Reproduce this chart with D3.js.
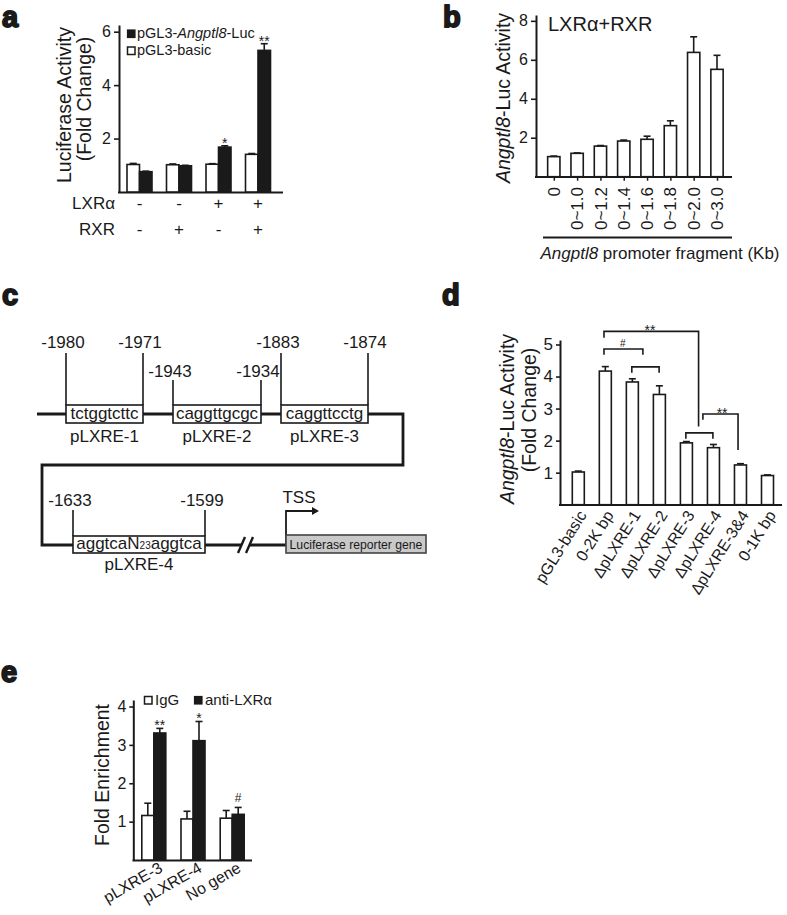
<!DOCTYPE html>
<html><head><meta charset="utf-8">
<script src="https://cdn.jsdelivr.net/npm/d3@7"></script>
<style>
body{margin:0;background:#fff}
svg{display:block}
text{font-family:"Liberation Sans",Arial,Helvetica,sans-serif;fill:#1a1a1a}
</style>
</head><body>
<svg id="fig" width="787" height="915"></svg>
<script>
// ---------------- DATA ----------------
// Panel a
const aGroups = ["g1","g2","g3","g4"];
const aLXR = ["-","-","+","+"];
const aRXR = ["-","+","-","+"];
const aBasic = [1.03,1.02,1.04,1.41];
const aBasicErr = [0.04,0.03,0.02,0.03];
const aLuc = [0.76,0.98,1.68,5.30];
const aLucErr = [0.02,0.02,0.05,0.25];
const aSig = ["","","*","**"];
const aTicks = [2,4,6];
// Panel b
const bCats = ["0","0~1.0","0~1.2","0~1.4","0~1.6","0~1.8","0~2.0","0~3.0"];
const bVals = [1.03,1.20,1.57,1.83,1.92,2.62,6.38,5.51];
const bErr  = [0.03,0.02,0.03,0.05,0.16,0.25,0.80,0.72];
const bTicks = [2,4,6,8];
// Panel c (schematic)
const cSites = [
  {name:"pLXRE-1", seq:"tctggtcttc", start:"-1980", end:"-1971"},
  {name:"pLXRE-2", seq:"caggttgcgc", start:"-1943", end:"-1934"},
  {name:"pLXRE-3", seq:"caggttcctg", start:"-1883", end:"-1874"},
  {name:"pLXRE-4", seq:"aggtcaN", sub:"23", seq2:"aggtca", start:"-1633", end:"-1599"}
];
// Panel d
const dCats = ["pGL3-basic","0-2K bp","\u0394pLXRE-1","\u0394pLXRE-2","\u0394pLXRE-3","\u0394pLXRE-4","\u0394pLXRE-3&4","0-1K bp"];
const dVals = [1.02,4.17,3.83,3.44,1.93,1.78,1.24,0.91];
const dErr  = [0.03,0.14,0.10,0.27,0.04,0.10,0.04,0.02];
const dTicks = [1,2,3,4,5];
// significance brackets: [from index, to index, top value, left leg value, right leg value, label, label index]
const dBrackets = [
  [0.95, 4.45, 5.41, 5.21, 2.44, "**", 2.65],
  [0.95, 2.39, 4.86, 4.68, 4.68, "#", 1.65],
  [1.98, 2.99, 4.30, 4.12, 4.12, "", 0],
  [3.98, 4.98, 2.24, 2.06, 2.06, "", 0],
  [4.61, 5.91, 2.83, 2.65, 1.71, "**", 5.32]
];
// Panel e
const eCats = ["pLXRE-3","pLXRE-4","No gene"];
const eIgG = [1.16,1.07,1.09];
const eIgGErr = [0.32,0.20,0.20];
const eAnti = [3.31,3.11,1.19];
const eAntiErr = [0.12,0.50,0.18];
const eSig = ["**","*","#"];
const eTicks = [1,2,3,4];

// ---------------- DRAWING ----------------
const INK = "#1a1a1a";
const svg = d3.select("#fig");

function letter(t,x,y){
  svg.append("text").attr("x",x).attr("y",y).text(t)
    .attr("font-size",29).attr("font-weight","bold")
    .attr("stroke",INK).attr("stroke-width",1.8).attr("stroke-linejoin","round");
}
letter("a",2,27); letter("b",443,27); letter("c",2,305); letter("d",442,305); letter("e",1,682);

function yAxis(x0, y, ticks, fs, tsize, tpad){
  const g = svg.append("g").attr("transform",`translate(${x0},0)`)
    .call(d3.axisLeft(y).tickValues(ticks).tickSize(tsize).tickPadding(tpad).tickSizeOuter(0).tickFormat(d3.format("d")));
  g.select(".domain").attr("stroke",INK).attr("stroke-width",2);
  g.selectAll(".tick line").attr("stroke",INK).attr("stroke-width",1.6);
  g.selectAll(".tick text").attr("font-size",fs).attr("fill",INK).style("font-family",'"Liberation Sans",Arial,sans-serif');
  return g;
}
function hLine(x1,x2,y,w){
  svg.append("line").attr("x1",x1).attr("x2",x2).attr("y1",y).attr("y2",y).attr("stroke",INK).attr("stroke-width",w||2);
}
function bar(x,w,y0,y1,fill){
  svg.append("rect").attr("x",x).attr("y",y1).attr("width",w).attr("height",y0-y1)
    .attr("fill",fill).attr("stroke",INK).attr("stroke-width",1.6);
}
function err(cx,yTop,yErr,cap){
  svg.append("line").attr("x1",cx).attr("x2",cx).attr("y1",yTop).attr("y2",yErr).attr("stroke",INK).attr("stroke-width",1.6);
  svg.append("line").attr("x1",cx-cap/2).attr("x2",cx+cap/2).attr("y1",yErr).attr("y2",yErr).attr("stroke",INK).attr("stroke-width",1.6);
}
function vLabel(lines){ // rotated y labels
  lines.forEach(l=>{
    const t = svg.append("text").attr("transform",`translate(${l.x},${l.y}) rotate(-90)`)
      .attr("text-anchor","middle").attr("font-size",l.fs);
    l.parts.forEach(p=>t.append("tspan").text(p[0]).attr("font-style",p[1]?"italic":"normal"));
  });
}

// ===== Panel a =====
{
  const y = d3.scaleLinear().domain([0,6.25]).range([192,25]);
  const x = d3.scalePoint().domain(aGroups).range([139.5,258]);
  const bw = 12.5;
  yAxis(119, y, aTicks, 16, 5, 3);
  hLine(118, 283, 192.5, 2);
  aGroups.forEach((g,i)=>{
    const c = x(g);
    bar(c-bw, bw, y(0), y(aBasic[i]), "#fff");
    err(c-bw/2, y(aBasic[i]), y(aBasic[i]+aBasicErr[i]), 7);
    bar(c, bw, y(0), y(aLuc[i]), INK);
    err(c+bw/2, y(aLuc[i]), y(aLuc[i]+aLucErr[i]), 7);
    if(aSig[i]) svg.append("text").attr("x",c+bw/2).attr("y",y(aLuc[i]+aLucErr[i])+2)
      .attr("text-anchor","middle").attr("font-size",14).text(aSig[i]);
    svg.append("text").attr("x",c).attr("y",209).attr("text-anchor","middle").attr("font-size",17).text(aLXR[i]);
    svg.append("text").attr("x",c).attr("y",235).attr("text-anchor","middle").attr("font-size",17).text(aRXR[i]);
  });
  svg.append("text").attr("x",115).attr("y",209).attr("text-anchor","end").attr("font-size",17).text("LXR\u03b1");
  svg.append("text").attr("x",115).attr("y",235).attr("text-anchor","end").attr("font-size",17).text("RXR");
  // legend
  svg.append("rect").attr("x",127.5).attr("y",30).attr("width",7.5).attr("height",7.5).attr("fill",INK).attr("stroke",INK).attr("stroke-width",1.2);
  const lt = svg.append("text").attr("x",137).attr("y",38).attr("font-size",14.5);
  lt.append("tspan").text("pGL3-"); lt.append("tspan").attr("font-style","italic").text("Angptl8"); lt.append("tspan").text("-Luc");
  svg.append("rect").attr("x",127.5).attr("y",47).attr("width",7.5).attr("height",7.5).attr("fill","#fff").attr("stroke",INK).attr("stroke-width",1.5);
  svg.append("text").attr("x",137).attr("y",55).attr("font-size",14.5).text("pGL3-basic");
  vLabel([
    {x:71, y:105, fs:19.5, parts:[["Luciferase Activity",false]]},
    {x:91, y:99, fs:19.5, parts:[["(Fold Change)",false]]}
  ]);
}

// ===== Panel b =====
{
  const y = d3.scaleLinear().domain([0,8.3]).range([176.7,15]);
  const x = d3.scalePoint().domain(bCats).range([553.8,717]);
  const bw = 12.3;
  yAxis(536, y, bTicks, 16, 5, 3);
  const gx = svg.append("g").attr("transform","translate(0,176.7)")
    .call(d3.axisBottom(x).tickSize(4).tickFormat(""));
  gx.select(".domain").remove();
  gx.selectAll(".tick line").attr("stroke",INK).attr("stroke-width",1.5);
  hLine(535, 732, 177, 2);
  bCats.forEach((c,i)=>{
    const cx = x(c);
    bar(cx-bw/2, bw, y(0), y(bVals[i]), "#fff");
    err(cx, y(bVals[i]), y(bVals[i]+bErr[i]), 7);
    svg.append("text").attr("transform",`translate(${cx},187) rotate(-90)`)
      .attr("text-anchor","end").attr("dy","0.36em").attr("font-size",17).text(c);
  });
  hLine(543, 732, 237.5, 1.8);
  const t = svg.append("text").attr("x",660).attr("y",259).attr("text-anchor","middle").attr("font-size",17);
  t.append("tspan").attr("font-style","italic").text("Angptl8"); t.append("tspan").text(" promoter fragment (Kb)");
  svg.append("text").attr("x",548).attr("y",31).attr("font-size",20).text("LXR\u03b1+RXR");
  vLabel([{x:510, y:98, fs:19.5, parts:[["Angptl8",true],["-Luc Activity",false]]}]);
}

// ===== Panel c (schematic) =====
{
  const W = 2.8;
  const p = d3.path();
  p.moveTo(37,414); p.lineTo(403,414); p.lineTo(403,465); p.lineTo(42,465); p.lineTo(42,545); p.lineTo(242,545);
  p.moveTo(250,545); p.lineTo(287,545);
  svg.append("path").attr("d",p.toString()).attr("fill","none").attr("stroke",INK).attr("stroke-width",W).attr("stroke-linejoin","miter");
  // break marks
  [[238,553,245,537],[246,553,253,537]].forEach(s=>svg.append("line").attr("x1",s[0]).attr("y1",s[1]).attr("x2",s[2]).attr("y2",s[3]).attr("stroke",INK).attr("stroke-width",2.4));
  // site boxes geometry
  const boxes = [
    {x1:66, x2:143, top:405, bot:423, lineTop:353, labY:348, nameY:442},
    {x1:173, x2:261, top:405, bot:423, lineTop:380, labY:377, nameY:442},
    {x1:281, x2:368, top:405, bot:423, lineTop:353, labY:348, nameY:442},
    {x1:73, x2:205, top:536, bot:553, lineTop:510, labY:506, nameY:570}
  ];
  cSites.forEach((s,i)=>{
    const b = boxes[i];
    [b.x1,b.x2].forEach(xx=>svg.append("line").attr("x1",xx).attr("x2",xx).attr("y1",b.lineTop).attr("y2",b.top).attr("stroke",INK).attr("stroke-width",1.6));
    svg.append("rect").attr("x",b.x1).attr("y",b.top).attr("width",b.x2-b.x1).attr("height",b.bot-b.top)
      .attr("fill","#fff").attr("stroke",INK).attr("stroke-width",1.6);
    const t = svg.append("text").attr("x",(b.x1+b.x2)/2).attr("y",b.bot-4).attr("text-anchor","middle").attr("font-size",17);
    t.append("tspan").text(s.seq);
    if(s.sub){ t.append("tspan").attr("font-size",10).text(s.sub); t.append("tspan").text(s.seq2); }
    svg.append("text").attr("x",b.x1-3).attr("y",b.labY).attr("text-anchor","middle").attr("font-size",17).text(s.start);
    svg.append("text").attr("x",b.x2-3).attr("y",b.labY).attr("text-anchor","middle").attr("font-size",17).text(s.end);
    svg.append("text").attr("x",(b.x1+b.x2)/2).attr("y",b.nameY).attr("text-anchor","middle").attr("font-size",17).text(s.name);
  });
  // TSS arrow & reporter
  svg.append("path").attr("d","M286,545V511H313").attr("fill","none").attr("stroke",INK).attr("stroke-width",1.8);
  svg.append("path").attr("d","M312,507L319,511L312,515Z").attr("fill",INK);
  svg.append("text").attr("x",299).attr("y",503).attr("text-anchor","middle").attr("font-size",17).text("TSS");
  svg.append("rect").attr("x",286).attr("y",535).attr("width",140).attr("height",18).attr("fill","#c9c9c9").attr("stroke","#444").attr("stroke-width",1.6);
  svg.append("text").attr("x",356).attr("y",548.5).attr("text-anchor","middle").attr("font-size",12.2).text("Luciferase reporter gene");
}

// ===== Panel d =====
{
  const y = d3.scaleLinear().domain([0,5.14]).range([504.7,340]);
  const x = d3.scalePoint().domain(dCats).range([578.3,767.5]);
  const xi = d3.scaleLinear().domain([0,dCats.length-1]).range([578.3,767.5]);
  const bw = 12;
  yAxis(560, y, dTicks, 17, 4, 3);
  hLine(559, 782, 505, 2);
  dCats.forEach((c,i)=>{
    const cx = x(c);
    bar(cx-bw/2, bw, y(0), y(dVals[i]), "#fff");
    err(cx, y(dVals[i]), y(dVals[i]+dErr[i]), 7);
    svg.append("text").attr("transform",`translate(${cx+4},512) rotate(-58)`)
      .attr("text-anchor","end").attr("dy","0.36em").attr("font-size",16).text(c);
  });
  dBrackets.forEach(b=>{
    const x1 = xi(b[0]), x2 = xi(b[1]);
    svg.append("path").attr("d",`M${x1},${y(b[3])}V${y(b[2])}H${x2}V${y(b[4])}`)
      .attr("fill","none").attr("stroke",INK).attr("stroke-width",1.6);
    if(b[5]){
      const isHash = b[5]==="#";
      svg.append("text").attr("x",xi(b[6])).attr("y",isHash? y(b[2])-2 : y(b[2])+4)
        .attr("text-anchor","middle").attr("font-size",isHash?10:14).text(b[5]);
    }
  });
  vLabel([
    {x:514, y:419, fs:19.5, parts:[["Angptl8",true],["-Luc Activity",false]]},
    {x:536, y:410, fs:19.5, parts:[["(Fold Change)",false]]}
  ]);
}

// ===== Panel e =====
{
  const y = d3.scaleLinear().domain([0,4.17]).range([860,700]);
  const x = d3.scalePoint().domain(eCats).range([153.8,232.2]);
  const bw = 12;
  yAxis(133.3, y, eTicks, 16, 4, 3);
  hLine(132.5, 252, 860.5, 2);
  eCats.forEach((c,i)=>{
    const cx = x(c);
    bar(cx-bw, bw, y(0), y(eIgG[i]), "#fff");
    err(cx-bw/2, y(eIgG[i]), y(eIgG[i]+eIgGErr[i]), 7);
    bar(cx, bw, y(0), y(eAnti[i]), INK);
    err(cx+bw/2, y(eAnti[i]), y(eAnti[i]+eAntiErr[i]), 7);
    const isHash = eSig[i]==="#";
    svg.append("text").attr("x",cx+bw/2).attr("y",isHash? y(eAnti[i]+eAntiErr[i])-5 : y(eAnti[i]+eAntiErr[i])+2)
      .attr("text-anchor","middle").attr("font-size",isHash?12:14).text(eSig[i]);
    svg.append("text").attr("transform",`translate(${cx+7},866) rotate(-30)`)
      .attr("text-anchor","end").attr("dy","0.36em").attr("font-size",16).text(c);
  });
  svg.append("rect").attr("x",144.5).attr("y",696.5).attr("width",7.5).attr("height",7.5).attr("fill","#fff").attr("stroke",INK).attr("stroke-width",1.5);
  svg.append("text").attr("x",155).attr("y",705).attr("font-size",15).text("IgG");
  svg.append("rect").attr("x",194.5).attr("y",696.5).attr("width",7.5).attr("height",7.5).attr("fill",INK).attr("stroke",INK).attr("stroke-width",1.2);
  svg.append("text").attr("x",205).attr("y",705).attr("font-size",15).text("anti-LXR\u03b1");
  vLabel([{x:109, y:775, fs:19.5, parts:[["Fold Enrichment",false]]}]);
}
</script>
</body></html>
